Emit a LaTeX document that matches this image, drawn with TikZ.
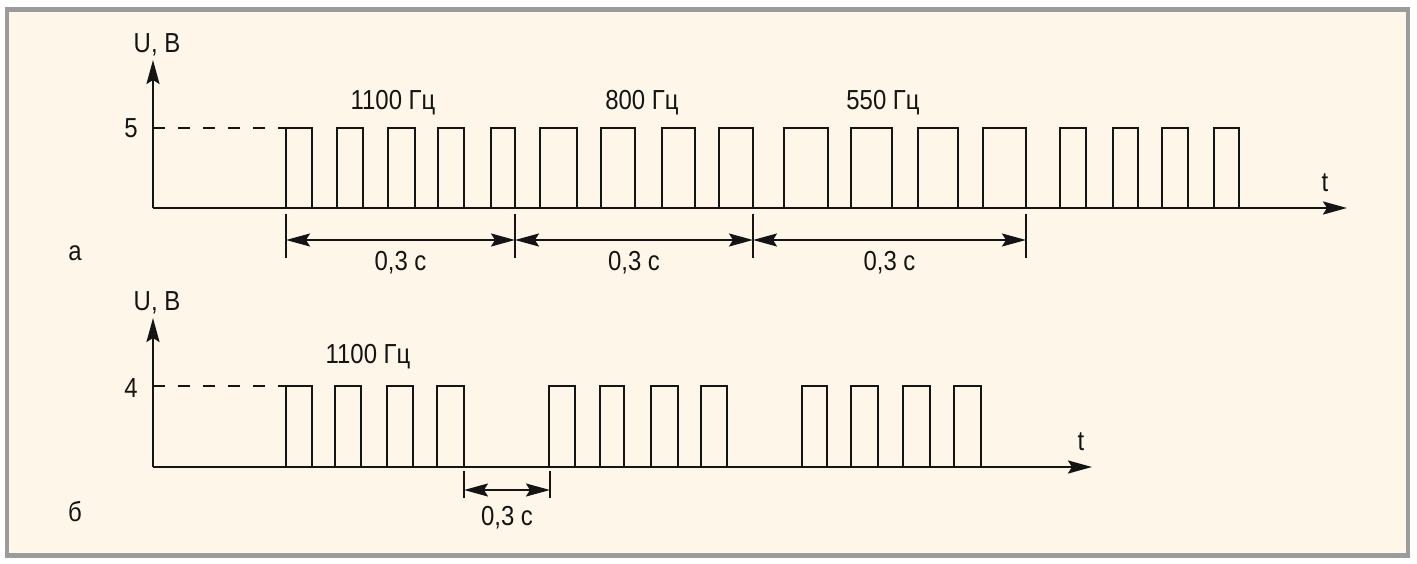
\documentclass[tikz,border=0pt]{standalone}
\usepackage{fontspec}
\setmainfont{Liberation Sans}[FakeStretch=0.87]
\usetikzlibrary{arrows.meta}
\definecolor{paper}{HTML}{FEF7E9}
\definecolor{rim}{HTML}{9B9B9B}
\definecolor{ink}{HTML}{141414}

\begin{document}
\begin{tikzpicture}
    [x=1pt, y=-1pt,
    >={Stealth[length=24pt, width=13pt, inset=4pt]},
    every node/.style={font=\fontsize{27.5}{32}\selectfont, text=ink, inner sep=0pt},
    wave/.style={draw=ink, line width=2.4pt, line join=miter},
    axis/.style={draw=ink, line width=2.4pt, ->},
    guide/.style={draw=ink, line width=1.8pt, dash pattern=on 12pt off 13pt},
    tickline/.style={draw=ink, line width=1.8pt},
    dimarrow/.style={draw=ink, line width=1.8pt, <->}
    ]
    \useasboundingbox (0,0) rectangle (1417,564);
    \draw[rim, fill=paper, line width=4.5pt] (7,9.5) rectangle (1408,555.5);

    % a
    \coordinate (oa) at (153,208);
    \coordinate (ua) at (153,60);
    \coordinate (ta) at (1347,208);
    \draw[axis] (oa) -- (ua);
    \draw[axis] (oa) -- (ta);
    \draw[guide] (153,128) -- (286,128);
    \draw[wave] (oa) foreach \r/\f in {286/312,337/363,388/415,438/464,491/515,
      540/577,601/635,662/695,719/753,784/828,851/892,918/958,983/1026,
      1060/1086,1113/1138,1162/1188,1214/1239}
      { -- (\r,208) -- (\r,128) -- (\f,128) -- (\f,208) };
    \foreach \x [count=\i] in {286,515,753,1026} {
      \draw[tickline] (\x,214) -- (\x,258);
      \coordinate (sa\i) at (\x,240);
    }
    \draw[dimarrow] (sa1) -- (sa2) node (da1) [midway, yshift=-23pt] {0,3 с};
    \draw[dimarrow] (sa2) -- (sa3) node (da2) [midway, yshift=-23pt] {0,3 с};
    \draw[dimarrow] (sa3) -- (sa4) node (da3) [midway, yshift=-23pt] {0,3 с};
    \node (ula) at (157,45) {U, В};
    \node (va) at (131,128) {5};
    \node (tla) at (1325,183) {t};
    \node (fa) at (75,253) {а};
    \node (fa1) at (393,103) {1100 Гц};
    \node (fa2) at (642,103) {800 Гц};
    \node (fa3) at (883,103) {550 Гц};

    % б
    \coordinate (ob) at (153,467);
    \coordinate (ub) at (153,318);
    \coordinate (tb) at (1092,467);
    \draw[axis] (ob) -- (ub);
    \draw[axis] (ob) -- (tb);
    \draw[guide] (153,386) -- (286,386);
    \draw[wave] (ob) foreach \r/\f in {286/312,335/361,387/413,437/464,
      549/575,600/624,651/678,701/727,802/827,851/878,903/930,954/981}
      { -- (\r,467) -- (\r,386) -- (\f,386) -- (\f,467) };
    \foreach \x [count=\i] in {464,550} {
      \draw[tickline] (\x,471) -- (\x,498);
      \coordinate (sb\i) at (\x,490);
    }
    \draw[dimarrow] (sb1) -- (sb2) node (db1) [midway, yshift=-28pt] {0,3 с};
    \node (ulb) at (157,303) {U, В};
    \node (vb) at (131,388) {4};
    \node (tlb) at (1081,442) {t};
    \node (fb) at (75,512) {б};
    \node (fb1) at (368,357) {1100 Гц};
\end{tikzpicture}
\end{document}
